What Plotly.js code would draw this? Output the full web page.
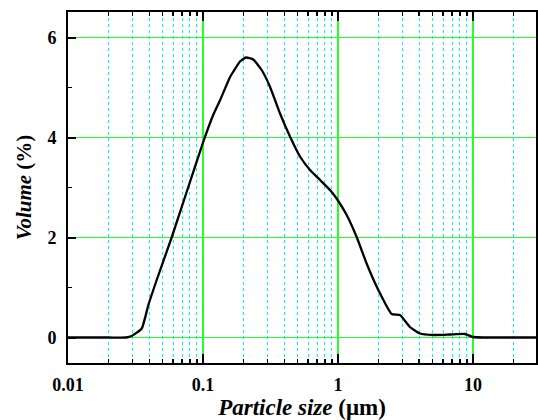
<!DOCTYPE html>
<html>
<head>
<meta charset="utf-8">
<script src="https://cdn.plot.ly/plotly-3.0.1.min.js"></script>
<style>html,body{margin:0;padding:0;background:#fff;}</style>
</head>
<body>
<div id="chart" style="width:538px;height:420px;"></div>
<script>
// Particle size (µm)
const particleSize = [0.01, 0.02, 0.027, 0.0296, 0.0352, 0.0394, 0.0454, 0.0586, 0.0757, 0.0995, 0.119, 0.134, 0.158, 0.168, 0.188, 0.208, 0.236, 0.272, 0.313, 0.372, 0.441, 0.523, 0.621, 0.737, 0.873, 0.977, 1.16, 1.38, 1.63, 1.99, 2.50, 2.88, 3.41, 4.05, 5.08, 6.76, 8.73, 10.0, 12, 29.3];
// Volume (%)
const volume = [0, 0, 0, 0.03, 0.18, 0.65, 1.15, 2.0, 2.91, 3.88, 4.45, 4.75, 5.2, 5.32, 5.52, 5.60, 5.56, 5.35, 5.02, 4.48, 4.02, 3.62, 3.35, 3.15, 2.95, 2.78, 2.45, 2.0, 1.48, 0.95, 0.47, 0.45, 0.21, 0.08, 0.05, 0.06, 0.07, 0.01, 0, 0];
const xTickVals = [0.01, 0.1, 1, 10];
const xTickText = ['0.01', '0.1', '1', '10'];
const yTickVals = [0, 2, 4, 6];

const serif = 'Liberation Serif, Times New Roman, serif';
const gridGreen = 'rgb(40,255,40)';
const gridCyan = 'rgb(0,245,255)';

const trace = {
  x: particleSize,
  y: volume,
  type: 'scatter',
  mode: 'lines',
  line: {color: '#000', width: 2.3, shape: 'spline', smoothing: 0.4},
  hoverinfo: 'x+y'
};

const tickFont = {family: serif, size: 18, color: '#000', weight: 'bold'};

const layout = {
  width: 538,
  height: 420,
  margin: {l: 68, r: 2, t: 12, b: 57},
  paper_bgcolor: '#fff',
  plot_bgcolor: '#fff',
  showlegend: false,
  font: {family: serif, size: 18, color: '#000'},
  xaxis: {
    type: 'log',
    range: [-2, 1.467],
    tickvals: xTickVals,
    ticktext: xTickText,
    ticks: 'inside',
    ticklen: 9,
    tickwidth: 2,
    tickcolor: '#000',
    showline: true,
    linewidth: 2,
    linecolor: '#000',
    mirror: 'ticks',
    showgrid: true,
    gridcolor: gridGreen,
    gridwidth: 1.5,
    zeroline: false,
    ticklabelstandoff: 4,
    tickfont: tickFont,
    minor: {
      dtick: 'D1',
      ticks: 'inside',
      ticklen: 4,
      tickwidth: 1.5,
      tickcolor: '#000',
      showgrid: true,
      gridcolor: gridCyan,
      gridwidth: 1,
      griddash: 'dot'
    },
    title: {
      text: '<b><i>Particle size</i> (μm)</b>',
      font: {family: serif, size: 23, color: '#000'},
      standoff: 3
    }
  },
  yaxis: {
    range: [-0.51, 6.51],
    tickvals: yTickVals,
    ticks: 'inside',
    ticklen: 8,
    tickwidth: 2,
    tickcolor: '#000',
    showline: true,
    linewidth: 2,
    linecolor: '#000',
    mirror: true,
    showgrid: true,
    gridcolor: gridGreen,
    gridwidth: 1.3,
    zeroline: false,
    ticklabelstandoff: 6,
    tickfont: tickFont,
    minor: {
      dtick: 1,
      ticks: 'inside',
      ticklen: 4,
      tickwidth: 1.5,
      tickcolor: '#000',
      showgrid: false
    },
    title: {
      text: '<b><i>Volume</i> (%)</b>',
      font: {family: serif, size: 21, color: '#000'},
      standoff: 10
    }
  }
};

Plotly.newPlot('chart', [trace], layout, {displayModeBar: false, staticPlot: true});
</script>
</body>
</html>
